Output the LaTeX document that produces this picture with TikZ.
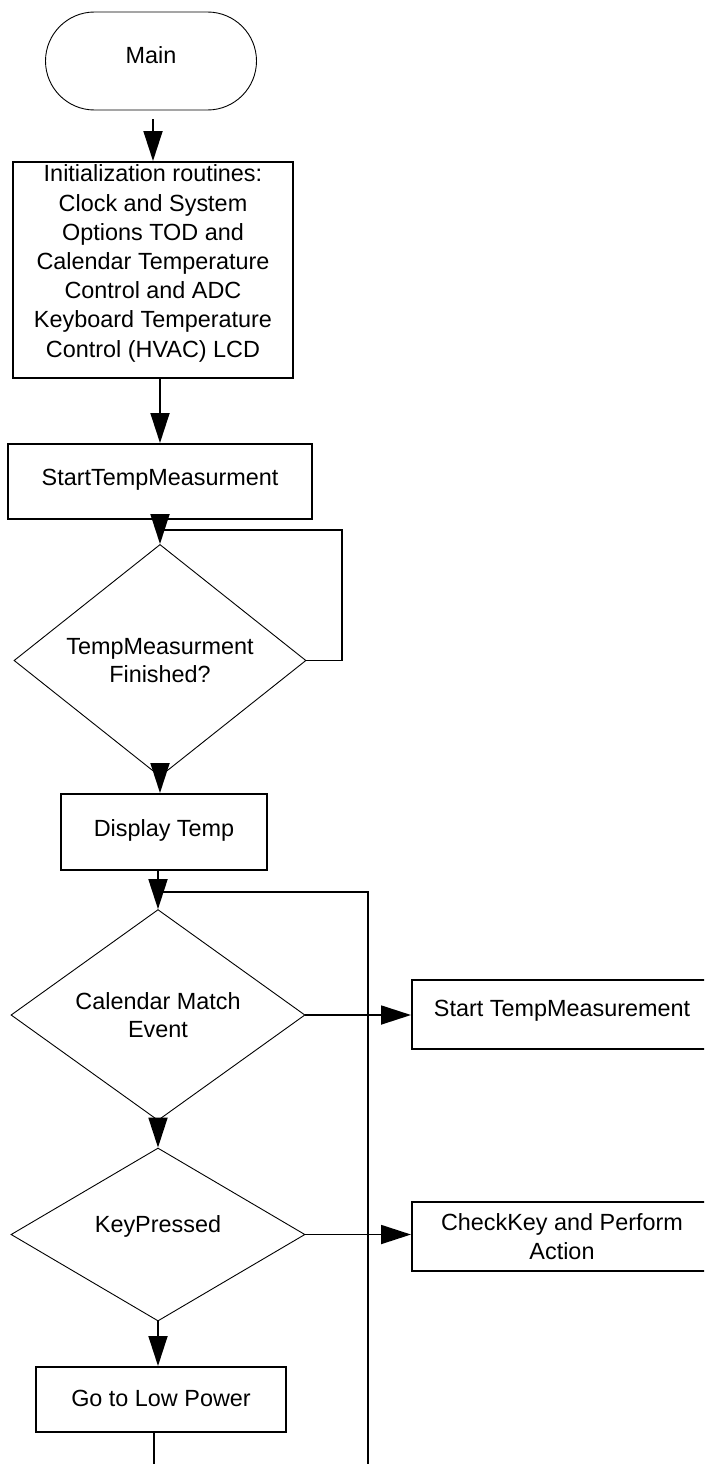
\documentclass[tikz,border=0pt]{standalone}
\usepackage{fontspec}
\setmainfont{Liberation Sans}
\usetikzlibrary{arrows.meta,shapes.geometric}
\begin{document}
\begin{tikzpicture}[x=1pt,y=-1pt,
  every node/.style={font=\fontsize{23.4}{28.5}\selectfont, inner sep=0pt, align=center},
  term/.style={draw, line width=0.9pt, rounded corners=49pt, minimum width=211pt, minimum height=98pt},
  box/.style={draw, line width=2pt, rectangle},
  dec/.style={draw, line width=0.9pt, diamond},
  conn/.style={line width=1.8pt},
  arr/.style={conn, -{Triangle[length=30pt,width=19pt]}},
  one/.style={text height=17.2pt, text depth=#1}
]
\useasboundingbox (0,0) rectangle (704,1464);
\clip (0,0) rectangle (704,1464);

\node[term, one=12pt] (main) at (151,61) {Main};
\node[box, minimum width=280pt, minimum height=216pt, font=\fontsize{23.4}{29.2}\selectfont] (init) at (153,270)
  {Initialization routines:\\Clock and System\\Options TOD and\\Calendar Temperature\\Control and ADC\\Keyboard Temperature\\Control (HVAC) LCD\rule[-18pt]{0pt}{1pt}};
\node[box, minimum width=304pt, minimum height=75pt, one=9pt] (start1) at (160,481.5) {StartTempMeasurment};
\node[dec, minimum width=292pt, minimum height=175pt] (dia1) at (160,660.5) {TempMeasurment\\Finished?};
\node[box, minimum width=206pt, minimum height=76pt, one=8pt] (disp) at (164,832) {Display Temp};
\node[dec, minimum width=294pt, minimum height=174pt] (dia2) at (158,1015) {Calendar Match\\Event};
\node[box, minimum width=300pt, minimum height=69pt, one=13pt] (stm2) at (562,1014.5) {Start TempMeasurement};
\node[dec, minimum width=294pt, minimum height=173pt, one=21pt] (dia3) at (158,1234.5) {KeyPressed};
\node[box, minimum width=300pt, minimum height=69pt] (chk) at (562,1236.5) {CheckKey and Perform\\Action};
\node[box, minimum width=250pt, minimum height=65pt, one=3pt] (low) at (161,1399.5) {Go to Low Power};

\coordinate (l1) at (342,530);
\coordinate (l2) at (368,892);
\coordinate (l2b) at (368,1470);
\coordinate (lowend) at (154,1470);

\draw[arr, shorten <=9pt] (main.south -| init.north) -- (init.north);
\draw[arr] (init.south -| start1.north) -- (start1.north);
\draw[arr] (start1.south -| dia1.north) -- (dia1.north);
\draw[conn] (dia1.east) -| (l1) -- (dia1.north |- l1);
\draw[arr] (dia1.south) -- (dia1.south |- disp.north);
\draw[arr] (disp.south -| dia2.north) -- (dia2.north);
\draw[conn] (l2b) -- (l2) -- (dia2.north |- l2);
\draw[arr] (dia2.east) -- (dia2.east -| stm2.west);
\draw[arr] (dia2.south) -- (dia3.north);
\draw[arr] (dia3.east) -- (dia3.east -| chk.west);
\draw[arr] (dia3.south) -- (dia3.south |- low.north);
\draw[conn] (low.south -| lowend) -- (lowend);
\end{tikzpicture}
\end{document}
